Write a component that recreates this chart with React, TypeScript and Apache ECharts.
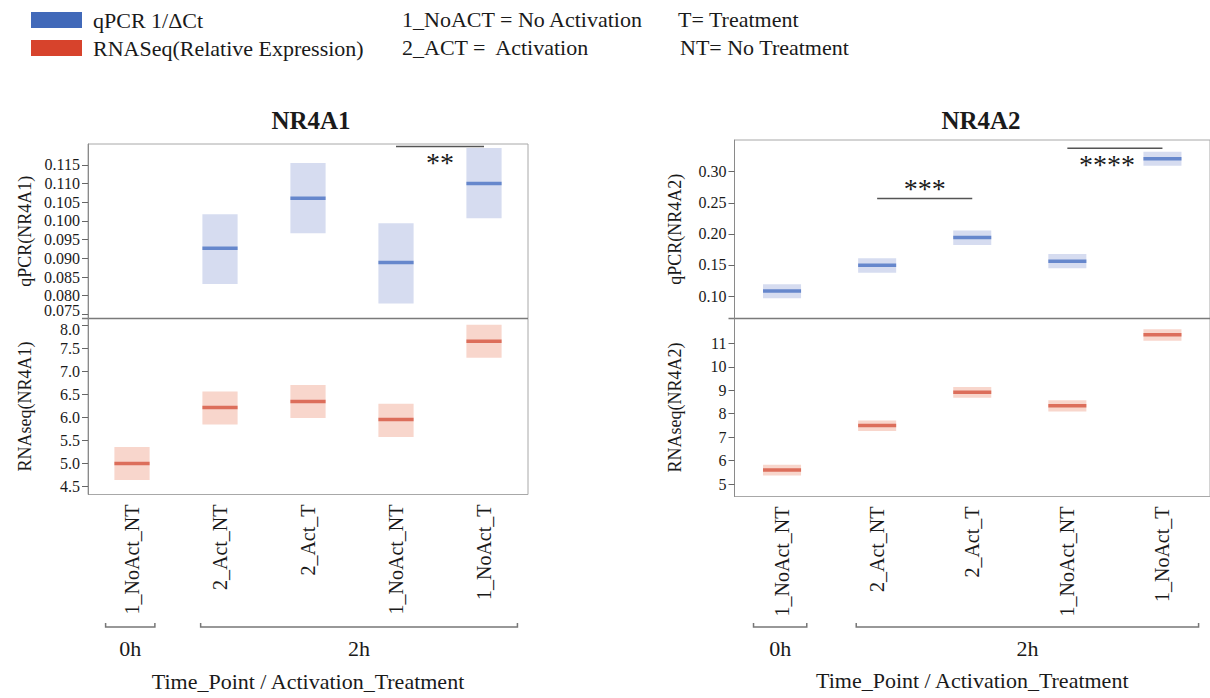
import React, { useEffect, useRef } from "react";
import * as echarts from "echarts";

const FONT = "'Liberation Serif', 'Times New Roman', serif";

const categories = ["1_NoAct_NT", "2_Act_NT", "2_Act_T", "1_NoAct_NT", "1_NoAct_T"];

// NR4A1
const nr4a1QpcrLow = [null, 0.0831, 0.0967, 0.0779, 0.1007];
const nr4a1QpcrMean = [null, 0.0927, 0.1061, 0.0889, 0.11];
const nr4a1QpcrHigh = [null, 0.1018, 0.1155, 0.0994, 0.1195];
const nr4a1RnaLow = [4.64, 5.85, 5.99, 5.58, 7.3];
const nr4a1RnaMean = [5.0, 6.22, 6.35, 5.96, 7.66];
const nr4a1RnaHigh = [5.36, 6.57, 6.71, 6.3, 8.02];

// NR4A2
const nr4a2QpcrLow = [0.0963, 0.1375, 0.182, 0.1447, 0.3096];
const nr4a2QpcrMean = [0.108, 0.1495, 0.194, 0.156, 0.321];
const nr4a2QpcrHigh = [0.1188, 0.1606, 0.2053, 0.1677, 0.3322];
const nr4a2RnaLow = [5.37, 7.26, 8.68, 8.09, 11.11];
const nr4a2RnaMean = [5.6, 7.5, 8.92, 8.34, 11.37];
const nr4a2RnaHigh = [5.82, 7.71, 9.14, 8.57, 11.6];

// tick values
const nr4a1QpcrTicks = [0.075, 0.08, 0.085, 0.09, 0.095, 0.1, 0.105, 0.11, 0.115];
const nr4a1RnaTicks = [4.5, 5.0, 5.5, 6.0, 6.5, 7.0, 7.5, 8.0];
const nr4a2QpcrTicks = [0.1, 0.15, 0.2, 0.25, 0.3];
const nr4a2RnaTicks = [5, 6, 7, 8, 9, 10, 11];

// significance annotations
const nr4a1Sig = [{ from: 3, to: 4, y: 0.1199, label: "**" }];
const nr4a2Sig = [
  { from: 1, to: 2, y: 0.257, label: "***" },
  { from: 3.1, to: 4, y: 0.3376, label: "****" },
];

const legendNames = ["qPCR 1/\u0394Ct", "RNASeq(Relative Expression)"];
const definitions = [
  "1_NoACT = No Activation",
  "2_ACT =\u00a0 Activation",
  "T= Treatment",
  "NT= No Treatment",
];
const titles = ["NR4A1", "NR4A2"];
const groupLabels = ["0h", "2h"];
const xName = "Time_Point / Activation_Treatment";

const BLUE_FILL = "#d6dcf0";
const BLUE_LINE = "#6687cc";
const RED_FILL = "#f8d6cc";
const RED_LINE = "#dc6e5b";
const TICK_FONT = 16;

function boxData(low: any[], mean: any[], high: any[]) {
  const out: number[][] = [];
  for (let i = 0; i < mean.length; i++) {
    if (mean[i] == null) continue;
    out.push([i, low[i], mean[i], high[i]]);
  }
  return out;
}

function makeRender(fill: string, lineColor: string) {
  return (_params: any, api: any) => {
    const x = api.value(0);
    const lo = api.coord([x, api.value(1)]);
    const mid = api.coord([x, api.value(2)]);
    const hi = api.coord([x, api.value(3)]);
    const bw = api.size([1, 0])[0] * 0.4;
    return {
      type: "group",
      children: [
        {
          type: "rect",
          shape: { x: lo[0] - bw / 2, y: hi[1], width: bw, height: lo[1] - hi[1] },
          style: { fill },
        },
        {
          type: "rect",
          shape: { x: lo[0] - bw / 2, y: mid[1] - 1.75, width: bw, height: 3.5 },
          style: { fill: lineColor },
        },
      ],
    };
  };
}

export default function App() {
  const ref = useRef<HTMLDivElement>(null);

  useEffect(() => {
    document.body.style.margin = "0";
    const chart = echarts.init(ref.current!, null, { renderer: "svg" });

    const grids = [
      { left: 88, top: 144, width: 440, height: 174.5 },
      { left: 88, top: 318.5, width: 440, height: 176 },
      { left: 734.5, top: 140, width: 478, height: 178.5 },
      { left: 734.5, top: 318.5, width: 478, height: 178 },
    ].map((g) => ({ ...g, show: true, borderColor: "#a8a8a8", borderWidth: 1 }));

    const xAxis = [0, 1, 2, 3].map((i) => {
      const bottom = i === 1 || i === 3;
      return {
        type: "category",
        gridIndex: i,
        data: categories,
        boundaryGap: true,
        axisLine: { show: false },
        axisTick: { show: false },
        splitLine: { show: false },
        axisLabel: bottom
          ? { show: true, rotate: 90, interval: 0, margin: 10, fontFamily: FONT, fontSize: 20, color: "#1a1a1a" }
          : { show: false },
        name: bottom ? xName : "",
        nameLocation: "middle",
        nameGap: i === 1 ? 176 : 173,
        nameTextStyle: { fontFamily: FONT, fontSize: 22, color: "#1a1a1a" },
      };
    });

    // labelSkip: the crowded label next to the panel divider, drawn separately with a nudge
    const yCfg = [
      { min: 0.0739, max: 0.1206, ticks: nr4a1QpcrTicks, dec: 3, name: "qPCR(NR4A1)", gap: 54, skip: 0.075, nudge: -3.5 },
      { min: 4.326, max: 8.157, ticks: nr4a1RnaTicks, dec: 1, name: "RNAseq(NR4A1)", gap: 54, skip: 8.0, nudge: 3.5 },
      { min: 0.0638, max: 0.351, ticks: nr4a2QpcrTicks, dec: 2, name: "qPCR(NR4A2)", gap: 51, skip: null, nudge: 0 },
      { min: 4.47, max: 12.06, ticks: nr4a2RnaTicks, dec: 0, name: "RNAseq(NR4A2)", gap: 51, skip: null, nudge: 0 },
    ];
    const yAxis = yCfg.map((c, i) => ({
      type: "value",
      gridIndex: i,
      min: c.min,
      max: c.max,
      splitLine: { show: false },
      axisLine: { show: true, lineStyle: { color: "#8a8a8a", width: 1 } },
      axisTick: { show: true, length: 6, customValues: c.ticks, lineStyle: { color: "#666" } },
      axisLabel: {
        customValues: c.ticks.filter((t) => t !== c.skip),
        formatter: (v: number) => v.toFixed(c.dec),
        fontFamily: FONT,
        fontSize: TICK_FONT,
        color: "#1a1a1a",
        margin: 8,
      },
      name: c.name,
      nameLocation: "middle",
      nameGap: c.gap,
      nameTextStyle: { fontFamily: FONT, fontSize: 18, color: "#1a1a1a" },
    }));

    const series = [
      { name: legendNames[0], idx: 0, data: boxData(nr4a1QpcrLow, nr4a1QpcrMean, nr4a1QpcrHigh), fill: BLUE_FILL, line: BLUE_LINE },
      { name: legendNames[1], idx: 1, data: boxData(nr4a1RnaLow, nr4a1RnaMean, nr4a1RnaHigh), fill: RED_FILL, line: RED_LINE },
      { name: legendNames[0], idx: 2, data: boxData(nr4a2QpcrLow, nr4a2QpcrMean, nr4a2QpcrHigh), fill: BLUE_FILL, line: BLUE_LINE },
      { name: legendNames[1], idx: 3, data: boxData(nr4a2RnaLow, nr4a2RnaMean, nr4a2RnaHigh), fill: RED_FILL, line: RED_LINE },
    ].map((s) => ({
      type: "custom",
      name: s.name,
      xAxisIndex: s.idx,
      yAxisIndex: s.idx,
      data: s.data,
      encode: { x: 0, y: [1, 2, 3] },
      renderItem: makeRender(s.fill, s.line),
      itemStyle: { color: s.idx % 2 === 0 ? "#4169b9" : "#d7432c" },
    }));

    chart.setOption({
      animation: false,
      backgroundColor: "#ffffff",
      legend: {
        orient: "vertical",
        left: 26,
        top: 4,
        itemWidth: 51,
        itemHeight: 16,
        itemGap: 6,
        icon: "rect",
        selectedMode: false,
        textStyle: { fontFamily: FONT, fontSize: 22, color: "#1a1a1a", padding: [0, 0, 0, 6] },
        data: [
          { name: legendNames[0], itemStyle: { color: "#4169b9" } },
          { name: legendNames[1], itemStyle: { color: "#d7432c" } },
        ],
      },
      grid: grids,
      xAxis,
      yAxis,
      series,
    });

    const px = (g: number, x: number, y: number) =>
      chart.convertToPixel({ gridIndex: g } as any, [x, y]) as number[];

    const graphic: any[] = [];
    const txt = (x: number, y: number, text: string, size: number, opts: any = {}) =>
      graphic.push({
        type: "text",
        x,
        y,
        silent: true,
        style: {
          text,
          fontFamily: FONT,
          fontSize: size,
          fill: "#1a1a1a",
          textAlign: opts.align || "left",
          textVerticalAlign: "middle",
          fontWeight: opts.bold ? "bold" : "normal",
        },
      });

    // crowded tick labels beside the divider
    yCfg.forEach((c, i) => {
      if (c.skip == null) return;
      const p = px(i, 0, c.skip);
      txt(grids[i].left - 8, p[1] + c.nudge, c.skip.toFixed(c.dec), TICK_FONT, { align: "right" });
    });

    // definitions
    txt(402, 19, definitions[0], 22);
    txt(402, 47, definitions[1], 22);
    txt(678, 19, definitions[2], 22);
    txt(680, 47, definitions[3], 22);

    // titles
    txt(311, 120, titles[0], 25, { align: "center", bold: true });
    txt(981, 120, titles[1], 25, { align: "center", bold: true });

    // divider lines between stacked panels
    [0, 2].forEach((g) => {
      const gr = grids[g];
      const y = gr.top + gr.height;
      graphic.push({
        type: "line",
        silent: true,
        shape: { x1: gr.left - 6, y1: y, x2: gr.left + gr.width, y2: y },
        style: { stroke: "#7a7a7a", lineWidth: 1.5 },
      });
    });

    // significance bars
    const sig = (g: number, arr: any[], below: boolean[]) => {
      arr.forEach((s, k) => {
        const a = px(g, s.from, s.y);
        const b = px(g, s.to, s.y);
        graphic.push({
          type: "line",
          silent: true,
          shape: { x1: a[0], y1: a[1], x2: b[0], y2: b[1] },
          style: { stroke: "#555", lineWidth: 1.5 },
        });
        txt((a[0] + b[0]) / 2 - (below[k] && g === 2 ? 8 : 0), a[1] + (below[k] ? 16 : -10), s.label, 28, { align: "center" });
      });
    };
    sig(0, nr4a1Sig, [true]);
    sig(2, nr4a2Sig, [false, true]);

    // time point brackets
    const bracket = (g: number) => {
      const c0 = px(g, 0, 0)[0];
      const c1 = px(g, 1, 0)[0];
      const c4 = px(g, 4, 0)[0];
      const band = c1 - c0;
      const y = 627;
      const spans = [
        [c0 - 0.3 * band, c0 + 0.26 * band],
        [c1 - 0.22 * band, c4 + 0.38 * band],
      ];
      spans.forEach((sp, k) => {
        graphic.push({
          type: "polyline",
          silent: true,
          shape: { points: [[sp[0], y - 4], [sp[0], y], [sp[1], y], [sp[1], y - 4]] },
          style: { stroke: "#777", lineWidth: 1.5, fill: "none" },
        });
        txt((sp[0] + sp[1]) / 2, 648, groupLabels[k], 22, { align: "center" });
      });
    };
    bracket(1);
    bracket(3);

    chart.setOption({ graphic });

    return () => chart.dispose();
  }, []);

  return <div ref={ref} style={{ width: 1210, height: 698 }} />;
}
